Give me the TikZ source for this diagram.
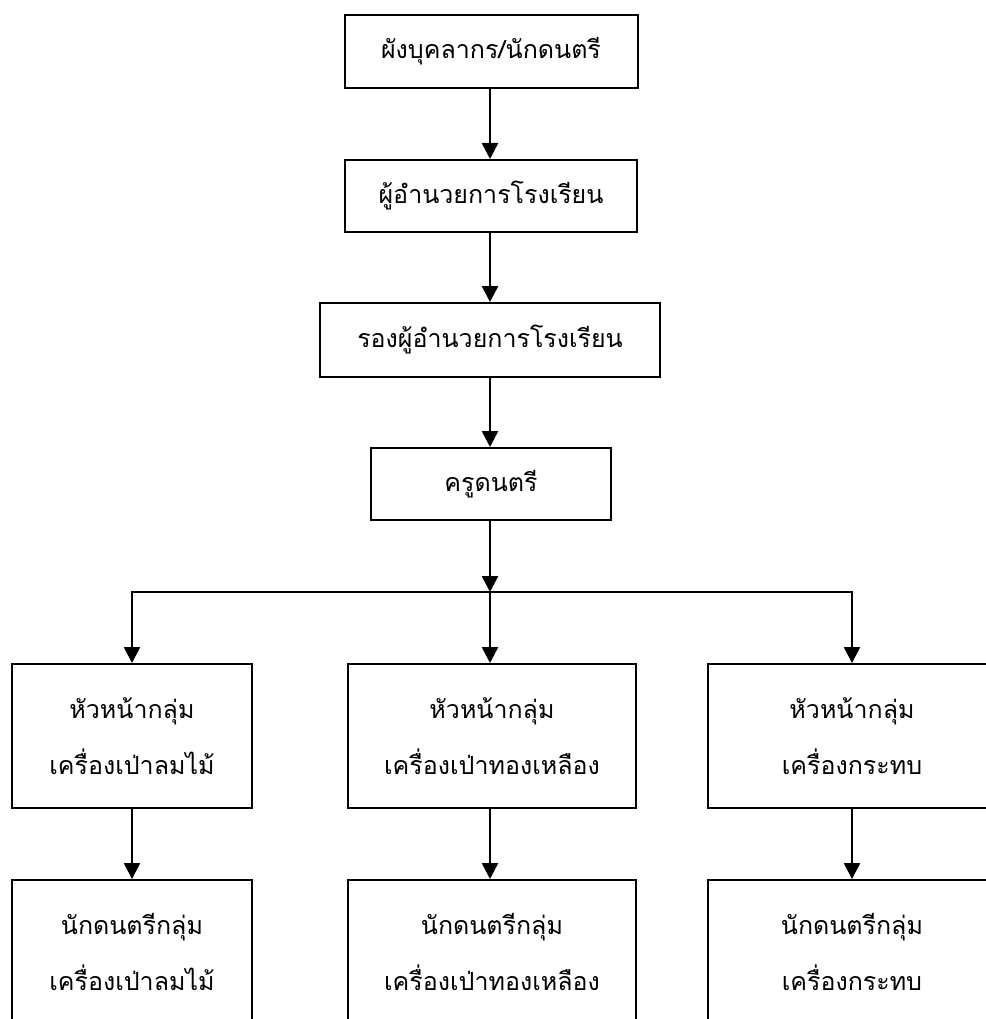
\documentclass[tikz,border=0pt]{standalone}
\usepackage{fontspec}
\newfontfamily\thaifont[Script=Thai]{Loma}
\usetikzlibrary{arrows.meta}
\tikzset{
	box/.style={draw, line width=2pt, rectangle, inner sep=0pt, align=center,
		font=\thaifont\fontsize{25}{56}\selectfont},
	arr/.style={line width=2.6pt, -{Triangle[width=16pt,length=16pt]}}
}
\begin{document}
\begin{tikzpicture}[x=1pt,y=-1pt]
	\useasboundingbox (0,0) rectangle (985,1019);
	% upper chain
	\node[box, minimum width=293pt, minimum height=73pt] (plan) at (491,51.5) {ผังบุคลากร/นักดนตรี};
	\node[box, minimum width=292pt, minimum height=72pt] (director) at (491,196) {ผู้อำนวยการโรงเรียน};
	\node[box, minimum width=340pt, minimum height=74pt] (deputy) at (490,340) {รองผู้อำนวยการโรงเรียน};
	\node[box, minimum width=240pt, minimum height=72pt] (teacher) at (491,484) {ครูดนตรี};
	\coordinate (split) at (490,592);
	% group heads
	\node[box, minimum width=240pt, minimum height=144pt] (headwood) at (132,736) {หัวหน้ากลุ่ม\\เครื่องเป่าลมไม้};
	\node[box, minimum width=288pt, minimum height=144pt] (headbrass) at (492,736) {หัวหน้ากลุ่ม\\เครื่องเป่าทองเหลือง};
	\node[box, minimum width=288pt, minimum height=144pt] (headperc) at (852,736) {หัวหน้ากลุ่ม\\เครื่องกระทบ};
	% musicians
	\node[box, minimum width=240pt, minimum height=144pt] (muswood) at (132,952) {นักดนตรีกลุ่ม\\เครื่องเป่าลมไม้};
	\node[box, minimum width=288pt, minimum height=144pt] (musbrass) at (492,952) {นักดนตรีกลุ่ม\\เครื่องเป่าทองเหลือง};
	\node[box, minimum width=288pt, minimum height=144pt] (musperc) at (852,952) {นักดนตรีกลุ่ม\\เครื่องกระทบ};
	\draw[arr] (plan.south -| split) -- (split |- director.north);
	\draw[arr] (director.south -| split) -- (split |- deputy.north);
	\draw[arr] (deputy.south -| split) -- (split |- teacher.north);
	\draw[arr] (teacher.south -| split) -- (split);
	\draw[arr] (split) -| (headwood);
	\draw[arr] (split) -- (split |- headbrass.north);
	\draw[arr] (split) -| (headperc);
	\draw[arr] (headwood) -- (muswood);
	\draw[arr] (headbrass.south -| split) -- (split |- musbrass.north);
	\draw[arr] (headperc) -- (musperc);
\end{tikzpicture}
\end{document}
